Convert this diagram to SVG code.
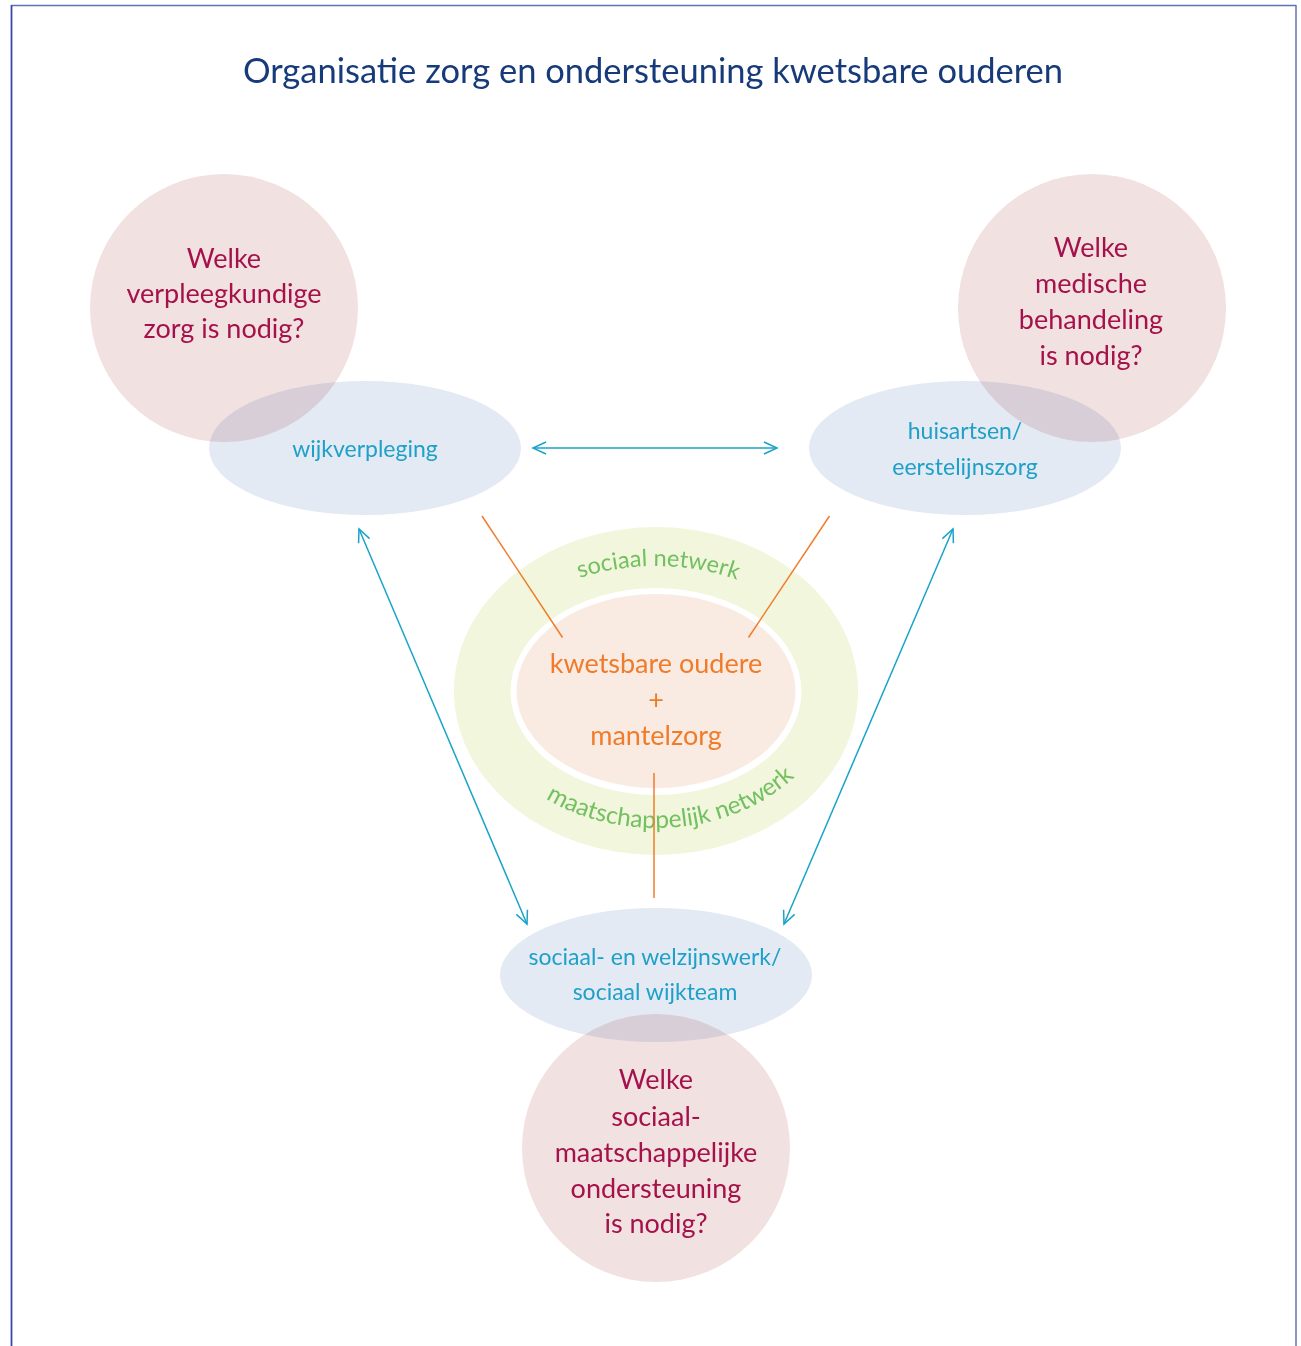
<svg xmlns="http://www.w3.org/2000/svg" width="1301" height="1346" viewBox="0 0 1301 1346">
<style>
text{font-family:Lato,"Open Sans","Liberation Sans",sans-serif;text-anchor:middle}
.title{font-size:34.5px;fill:#173b7a}
.q{font-size:27px;fill:#a5114b}
.svc{font-size:23px;fill:#1ea0c8}
.core{font-size:27px;fill:#f07b2a}
.net{fill:#72c060}
.pink{fill:#f2e1e1;mix-blend-mode:multiply}
.blue{fill:#e3eaf4;mix-blend-mode:multiply}
.arrow{stroke:#1aa3c8;stroke-width:1.5;fill:none;marker-start:url(#ah);marker-end:url(#ah)}
.link{stroke:#f07b2a;stroke-width:1.5;fill:none}
</style>
<defs>
<marker id="ah" viewBox="-14 -7 16 14" markerWidth="16" markerHeight="14" markerUnits="userSpaceOnUse" refX="0" refY="0" orient="auto-start-reverse">
<path d="M-13,-6 L0,0 L-13,6" fill="none" stroke="#1aa3c8" stroke-width="1.5"/>
</marker>
<path id="topArc" d="M478,691 A178,125 0 0 1 834,691"/>
<path id="botArc" d="M478,691 A178,137 0 0 0 834,691"/>
</defs>
<rect width="1301" height="1346" fill="#ffffff"/>
<g id="frame" fill="none">
<line x1="11.5" y1="5.5" x2="1296" y2="5.5" stroke="#6070b8" stroke-width="1.5"/>
<line x1="11.5" y1="5" x2="11.5" y2="1346" stroke="#3a48a8" stroke-width="1.8"/>
<line x1="1296" y1="5" x2="1296" y2="1346" stroke="#6070b8" stroke-width="1.5"/>
</g>
<text id="title" class="title" x="653" y="83">Organisatie zorg en ondersteuning kwetsbare ouderen</text>
<g id="center">
<ellipse cx="656" cy="691" rx="202" ry="164" fill="#f1f6dc"/>
<ellipse cx="656" cy="691.5" rx="145.5" ry="103.5" fill="#ffffff"/>
<ellipse cx="656" cy="691" rx="139.5" ry="97" fill="#f9ebe1"/>
<text class="net" font-size="23.5"><textPath href="#topArc" startOffset="50.5%">sociaal netwerk</textPath></text>
<text class="net" font-size="24.5"><textPath href="#botArc" startOffset="53.6%">maatschappelijk netwerk</textPath></text>
<text class="core" x="656" y="673">kwetsbare oudere</text>
<text class="core" x="656" y="709">+</text>
<text class="core" x="656" y="745">mantelzorg</text>
</g>
<g id="wijkverpleging">
<ellipse class="blue" cx="365" cy="448" rx="156" ry="67"/>
<text class="svc" x="365" y="457">wijkverpleging</text>
</g>
<g id="q-verpleegkundig">
<circle class="pink" cx="224" cy="308" r="134"/>
<text class="q" x="224" y="268">Welke</text>
<text class="q" x="224" y="303">verpleegkundige</text>
<text class="q" x="224" y="338">zorg is nodig?</text>
</g>
<g id="huisartsen">
<ellipse class="blue" cx="965" cy="448" rx="156" ry="67"/>
<text class="svc" x="965" y="439">huisartsen/</text>
<text class="svc" x="965" y="475">eerstelijnszorg</text>
</g>
<g id="q-medisch">
<circle class="pink" cx="1092" cy="308" r="134"/>
<text class="q" x="1091" y="257">Welke</text>
<text class="q" x="1091" y="293">medische</text>
<text class="q" x="1091" y="329">behandeling</text>
<text class="q" x="1091" y="365">is nodig?</text>
</g>
<g id="sociaal-werk">
<ellipse class="blue" cx="656" cy="975" rx="156" ry="67"/>
<text class="svc" x="655" y="965">sociaal- en welzijnswerk/</text>
<text class="svc" x="655" y="1000">sociaal wijkteam</text>
</g>
<g id="q-sociaal">
<circle class="pink" cx="656" cy="1148" r="134"/>
<text class="q" x="656" y="1089">Welke</text>
<text class="q" x="656" y="1126">sociaal-</text>
<text class="q" x="656" y="1162">maatschappelijke</text>
<text class="q" x="656" y="1198">ondersteuning</text>
<text class="q" x="656" y="1233">is nodig?</text>
</g>
<g id="connectors">
<line class="arrow" x1="533" y1="448" x2="777" y2="448"/>
<line class="arrow" x1="359" y1="529" x2="527" y2="924"/>
<line class="arrow" x1="953" y1="529" x2="784" y2="924"/>
<line class="link" x1="482" y1="516" x2="562.5" y2="637.5"/>
<line class="link" x1="829.5" y1="516" x2="748.5" y2="637.5"/>
<line class="link" x1="654" y1="773" x2="654" y2="898"/>
</g>
</svg>
